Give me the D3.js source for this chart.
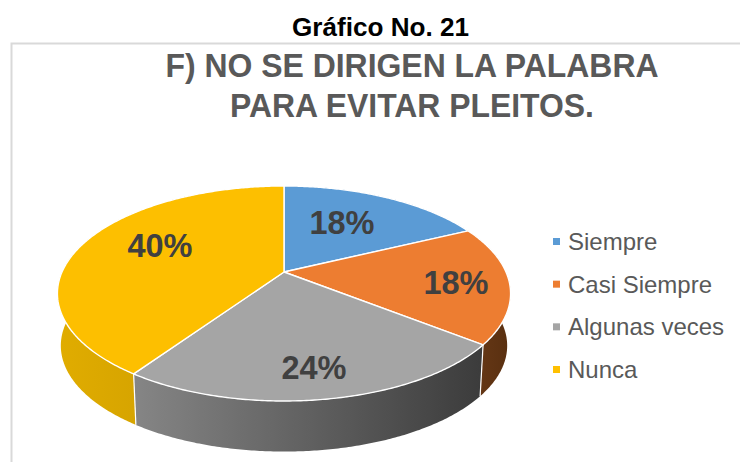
<!DOCTYPE html>
<html><head><meta charset="utf-8">
<script src="https://cdnjs.cloudflare.com/ajax/libs/d3/7.8.5/d3.min.js"></script>
<style>html,body{margin:0;padding:0;background:#fff}svg{display:block}text{font-family:"Liberation Sans",Arial,sans-serif}</style>
</head><body><svg id="c" width="740" height="462"></svg>
<script>
const categories = ["Siempre","Casi Siempre","Algunas veces","Nunca"];
const values = [18,18,24,40];
const labels = ["18%","18%","24%","40%"];
const heading = "Gráfico No. 21";
const titleLines = ["F) NO SE DIRIGEN LA PALABRA","PARA EVITAR PLEITOS."];

const topColors = ["#5B9BD5","#ED7D31","#A5A5A5","#FDBF00"];
const wallStops = [["#2f5f8f","#2f5f8f"],["#6a3a18","#5a3010"],["#858585","#3c3c3c"],["#e0ac00","#c49600"]];
const legendFill = ["#5B9BD5","#ED7D31","#A5A5A5","#FFC000"];

const svg = d3.select("#c");
const W=740,H=462;

// page furniture
svg.append("path").attr("d",`M11.5,${H} V43.5 H${W}`).attr("fill","none").attr("stroke","#d9d9d9").attr("stroke-width",2);
svg.append("text").attr("x",380.5).attr("y",36).attr("text-anchor","middle").attr("font-size",26).attr("font-weight","700").attr("fill","#000")
  .attr("textLength",177).attr("lengthAdjust","spacingAndGlyphs").text(heading);
const titleWidths=[493,364];
svg.selectAll(".t").data(titleLines).join("text").attr("class","t")
  .attr("x",412).attr("y",(d,i)=>77+i*40).attr("text-anchor","middle")
  .attr("font-size",33).attr("font-weight","700").attr("fill","#595959")
  .attr("textLength",(d,i)=>titleWidths[i]).attr("lengthAdjust","spacingAndGlyphs").text(d=>d);

// perspective disc
const cx=284, y0=272, a=222, b=103.2, k=0.2, depthY=52.5, depthS=0.985, warp=0.03;
function proj(t0,r=1,level=0){
  const t=t0-warp*Math.sin(t0/2)**2;
  const u=r*Math.sin(t), v=r*Math.cos(t), w=1+k*v;
  const s=level?depthS:1;
  return [cx+s*a*u/w, y0+(level?depthY:0)-s*b*v/w];
}
const pie=d3.pie().sort(null).value(d=>d);
const arcs=pie(values);
const line=d3.line();
const stepAngles=(s,e)=>{const n=Math.max(2,Math.ceil((e-s)/0.01));return d3.range(n+1).map(i=>s+(e-s)*i/n)};

const defs=svg.append("defs");
arcs.forEach((d,i)=>{
  const pts=stepAngles(d.startAngle,d.endAngle).map(t=>proj(t,1,1));
  const ex=d3.extent(pts,p=>p[0]);
  const g=defs.append("linearGradient").attr("id","w"+i).attr("gradientUnits","userSpaceOnUse")
    .attr("x1",ex[0]).attr("x2",ex[1]).attr("y1",0).attr("y2",0);
  g.append("stop").attr("offset",0).attr("stop-color",wallStops[i][0]);
  g.append("stop").attr("offset",1).attr("stop-color",wallStops[i][1]);
});

// walls
arcs.forEach((d,i)=>{
  const ts=stepAngles(d.startAngle,d.endAngle);
  const p=ts.map(t=>proj(t)).concat(ts.slice().reverse().map(t=>proj(t,1,1)));
  svg.append("path").attr("d",line(p)+"Z").attr("fill",`url(#w${i})`);
});
// separators between walls
arcs.slice(1).forEach(d=>{
  svg.append("path").attr("d",line([proj(d.startAngle),proj(d.startAngle,1,1)])).attr("stroke","#fff").attr("stroke-width",1.2).attr("fill","none");
});
// top faces
arcs.forEach((d,i)=>{
  const p=[proj(0,0)].concat(stepAngles(d.startAngle,d.endAngle).map(t=>proj(t)));
  svg.append("path").attr("d",line(p)+"Z").attr("fill",topColors[i]).attr("stroke","#fff").attr("stroke-width",1.4).attr("stroke-linejoin","round");
});

// data labels
const labelCenters=[[342,222],[456,282],[314,367],[160,245]];
labels.forEach((l,i)=>{
  svg.append("text").attr("x",labelCenters[i][0]).attr("y",labelCenters[i][1]).attr("dy","0.36em").attr("text-anchor","middle")
    .attr("font-size",32.5).attr("font-weight","700").attr("fill","#404040").text(l);
});

// legend
const ly=d3.scalePoint().domain(categories).range([242,370]);
const leg=svg.selectAll(".l").data(categories).join("g").attr("class","l").attr("transform",d=>`translate(553,${ly(d)})`);
leg.append("rect").attr("x",0).attr("y",-4).attr("width",7).attr("height",7).attr("fill",(d,i)=>legendFill[i]);
leg.append("text").attr("x",15).attr("y",8).attr("font-size",24).attr("fill","#595959").text(d=>d);
</script></body></html>
